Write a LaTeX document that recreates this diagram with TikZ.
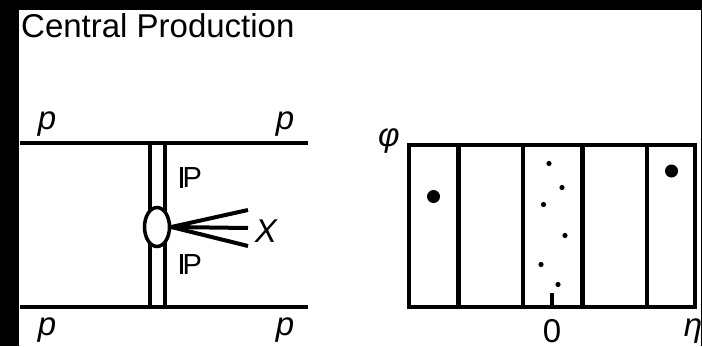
\documentclass[tikz,border=0pt]{standalone}
\usepackage{fontspec}
\setmainfont{Liberation Sans}
\usetikzlibrary{shapes.geometric}
\newcommand{\pomsym}{\rule{2.8pt}{20.8pt}\kern-0.2pt P}
\tikzset{
    lbl/.style={inner sep=0pt, font=\fontsize{33}{36}\selectfont\itshape},
    pom/.style={inner sep=0pt, font=\fontsize{29}{32}\selectfont},
    beam/.style={line width=4pt},
    cell/.style={line width=4.5pt},
}
\begin{document}
\begin{tikzpicture}[x=1pt, y=-1pt]
        \useasboundingbox (0,0) rectangle (702,346);
        \fill[black] (0,0) rectangle (702,346);
        \fill[white] (19,10) rectangle (701,346);

        % title
        \node[inner sep=0pt, anchor=base west, font=\fontsize{33}{36}\selectfont] (title) at (21, 37) {Central Production};

        % protons
        \coordinate (tl) at (20, 143);
        \coordinate (tr) at (308, 143);
        \coordinate (bl) at (20, 307);
        \coordinate (br) at (308, 307);
        \draw[beam] (tl) -- (tr);
        \draw[beam] (bl) -- (br);
        \node[lbl] (p1) at (47, 124) {p};
        \node[lbl] (p2) at (285, 124) {p};
        \node[lbl] (p3) at (47, 330) {p};
        \node[lbl] (p4) at (285, 330) {p};

        % pomerons
        \foreach \x/\n in {150/a, 165/b} {
            \coordinate (up\n) at (\x, 143);
            \coordinate (dn\n) at (\x, 307);
            \draw[beam] (up\n) -- (dn\n);
        }
        \node[pom] (pu) at (191, 177.5) {\pomsym};
        \node[pom] (pd) at (191, 264) {\pomsym};

        % central system
        \node[draw, fill=white, line width=3.5pt, ellipse, minimum width=25pt, minimum height=39pt, inner sep=0pt] (blob) at (157, 227) {};
        \coordinate (x1) at (248, 210);
        \coordinate (x2) at (248, 228);
        \coordinate (x3) at (248, 246);
        \foreach \c in {x1, x2, x3} {
            \draw[beam] (blob.east) -- (\c);
        }
        \node[lbl] (X) at (266, 231) {X};

        % eta-phi plane
        \draw[cell] (409, 145) rectangle (695, 307);
        \foreach \x in {458.5, 523, 582.5, 647} {
            \draw[cell] (\x, 145) -- (\x, 307);
        }
        \draw[line width=4pt] (552, 293) -- (552, 307);
        \fill (433.5, 196.5) circle (6.5pt);
        \fill (671.5, 171) circle (6.5pt);
        \foreach \x/\y in {549/163.5, 562/187.5, 543.5/204.5, 565/235.5, 541/264.5, 558/284.5} {
            \fill (\x, \y) circle (2.6pt);
        }
        \node[lbl] (phi) at (389, 141) {φ};
        \node[inner sep=0pt, font=\fontsize{33}{36}\selectfont] (zero) at (552, 331) {0};
        \node[lbl] (eta) at (693, 331) {η};
    \end{tikzpicture}
\end{document}
